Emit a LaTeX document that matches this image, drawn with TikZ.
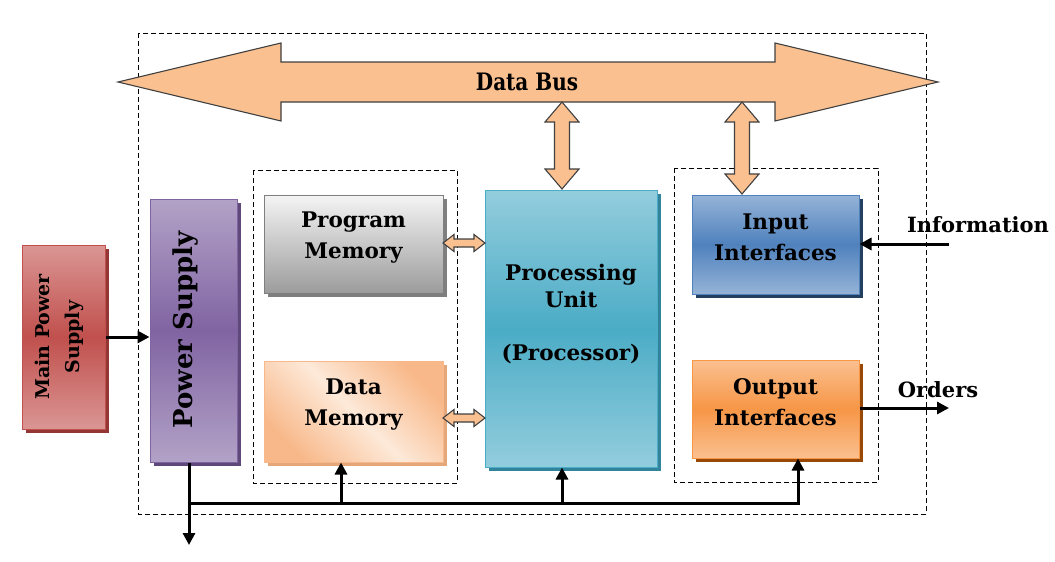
\documentclass[tikz,border=0pt]{standalone}
\usepackage{fontspec}
\setmainfont{DejaVu Serif}
\usetikzlibrary{shadows,arrows.meta,calc}
\definecolor{peach}{HTML}{FAC090}
\definecolor{busline}{HTML}{404040}
\definecolor{redA}{HTML}{DA9694}
\definecolor{redB}{HTML}{C0504D}
\definecolor{redS}{HTML}{943634}
\definecolor{purA}{HTML}{B3A2C7}
\definecolor{purB}{HTML}{8064A2}
\definecolor{purS}{HTML}{5F497A}
\definecolor{grayA}{HTML}{F4F4F4}
\definecolor{grayB}{HTML}{9C9C9C}
\definecolor{grayS}{HTML}{7F7F7F}
\definecolor{orA}{HTML}{FDE9D9}
\definecolor{orB}{HTML}{F8B889}
\definecolor{orS}{HTML}{E4A77A}
\definecolor{tealA}{HTML}{93CDDD}
\definecolor{tealB}{HTML}{4BACC6}
\definecolor{tealS}{HTML}{31849B}
\definecolor{blueA}{HTML}{95B3D7}
\definecolor{blueB}{HTML}{4F81BD}
\definecolor{blueS}{HTML}{244061}
\definecolor{oA}{HTML}{FAC090}
\definecolor{oB}{HTML}{F79646}
\definecolor{oS}{HTML}{984807}
\newcommand\myHArrow[6]{\draw[busarrow] (#1,#3) -- ({#1+#6},{#3-#5}) -- ({#1+#6},{#3-#4}) -- ({#2-#6},{#3-#4}) -- ({#2-#6},{#3-#5}) -- (#2,#3) -- ({#2-#6},{#3+#5}) -- ({#2-#6},{#3+#4}) -- ({#1+#6},{#3+#4}) -- ({#1+#6},{#3+#5}) -- cycle;}
\newcommand\myVArrow[6]{\draw[busarrow] (#3,#1) -- ({#3-#5},{#1+#6}) -- ({#3-#4},{#1+#6}) -- ({#3-#4},{#2-#6}) -- ({#3-#5},{#2-#6}) -- (#3,#2) -- ({#3+#5},{#2-#6}) -- ({#3+#4},{#2-#6}) -- ({#3+#4},{#1+#6}) -- ({#3+#5},{#1+#6}) -- cycle;}
\begin{document}
\begin{tikzpicture}[x=1pt,y=-1pt,
  box/.style={draw, line width=1pt, inner sep=0pt},
  txt/.style={align=center, font=\bfseries\fontsize{21.5}{31}\selectfont},
  vgrad/.style 2 args={top color=#1, bottom color=#1, middle color=#2},
  shad/.style={drop shadow={shadow xshift=4pt, shadow yshift=-4pt, fill=#1, opacity=1}},
  dashbox/.style={draw, line width=0.9pt, dash pattern=on 5pt off 3pt},
  busarrow/.style={draw=busline, line width=1.1pt, fill=peach, line join=miter},
  conn/.style={line width=3pt, -{Triangle[length=12pt,width=12pt]}},
  wire/.style={line width=3pt},
  lbl/.style={font=\bfseries\fontsize{21}{24}\selectfont}]
\useasboundingbox (0,0) rectangle (1055,562);

% outer dashed frame
\draw[dashbox] (138,33) rectangle (926,514);
% inner dashed frames
\draw[dashbox] (253,170) rectangle (457,483);
\draw[dashbox] (674,168) rectangle (878,482);

% data bus
\myHArrow{118}{938}{82}{20}{39}{163}
\node[font=\bfseries\fontsize{20}{24}\selectfont, yscale=1.2] (bus) at (527,82) {Data Bus};

% boxes
\node[box, shad=redS, vgrad={redA}{redB}, draw=redB, minimum width=83pt, minimum height=184pt]
  (main) at (63.5,337) {};
\node[rotate=90, align=center, font=\bfseries\fontsize{19}{30}\selectfont] at (59,337) {Main Power\\Supply};

\node[box, shad=purS, vgrad={purA}{purB}, draw=purB, minimum width=87pt, minimum height=263pt]
  (psu) at (193.5,330.5) {};
\node[rotate=90, font=\bfseries\fontsize{26}{30}\selectfont] at (186,330) {Power Supply};

\node[box, shad=grayS, top color=grayA, bottom color=grayB, draw=grayS, minimum width=179pt, minimum height=98pt]
  (prog) at (353.5,244) {};
\node[txt] at ([yshift=6pt]prog.center) {Program\\Memory};

\node[box, shad=orS, top color=orB, bottom color=orB, middle color=orA, shading angle=-45, draw=orB, minimum width=179pt, minimum height=101pt]
  (dmem) at (353.5,411.5) {};
\node[txt] at ([yshift=7pt]dmem.center) {Data\\Memory};

\node[box, shad=tealS, vgrad={tealA}{tealB}, draw=tealB, minimum width=172pt, minimum height=277pt]
  (proc) at (571,328.5) {};
\node[txt, font=\bfseries\fontsize{21.5}{27}\selectfont] at (571,314) {Processing\\Unit\\[26pt](Processor)};

\node[box, shad=blueS, vgrad={blueA}{blueB}, draw=blueB, minimum width=167pt, minimum height=99pt]
  (inp) at (775.5,244.5) {};
\node[txt] at ([yshift=7pt]inp.center) {Input\\Interfaces};

\node[box, shad=oS, vgrad={oA}{oB}, draw=oB, minimum width=167pt, minimum height=98pt]
  (outp) at (775.5,409) {};
\node[txt] at ([yshift=7pt]outp.center) {Output\\Interfaces};

% vertical bus arrows
\myVArrow{102}{189}{562}{7.5}{17}{20}
\myVArrow{102}{194}{742}{7.5}{17}{20}
% memory to processor arrows
\myHArrow{443}{485}{243}{4}{8.5}{11}
\myHArrow{443}{485}{418}{4}{8.5}{11}

% power connections
\draw[conn] (main.east) -- (main.east -| psu.west);
\coordinate (pd) at (189,545);
\coordinate (busL) at (189,503);
\coordinate (busR) at (798,503);
\coordinate (b1) at (341,503);
\coordinate (b2) at (562,503);
\draw[conn] (pd |- psu.south) -- (pd);
\draw[wire] (busL) -- ([xshift=1.5pt]busR);
\draw[conn] (b1) -- (b1 |- dmem.south);
\draw[conn] (b2) -- (b2 |- proc.south);
\draw[conn] ([yshift=-1.5pt]busR) -- (busR |- outp.south);

% information / orders
\coordinate (infoS) at (949,244);
\coordinate (ordE) at (949,408);
\draw[conn] (infoS) -- (infoS -| inp.east);
\draw[conn] (ordE -| outp.east) -- (ordE);
\node[lbl] (info) at (978,225) {Information};
\node[lbl] (ord) at (938,390) {Orders};
\end{tikzpicture}
\end{document}
